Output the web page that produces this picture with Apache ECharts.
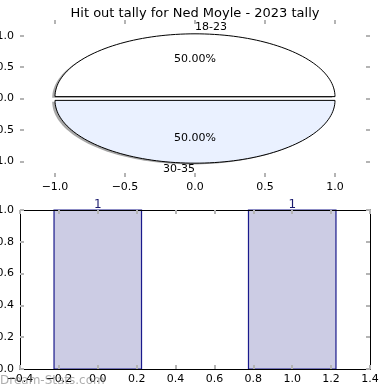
<!DOCTYPE html>
<html>
<head>
<meta charset="utf-8">
<script src="https://cdn.jsdelivr.net/npm/echarts@6/dist/echarts.min.js"></script>
<style>
html,body{margin:0;padding:0;background:#fff;}
#chart{width:390px;height:390px;}
</style>
</head>
<body>
<div id="chart"></div>
<script>
const chartTitle = 'Hit out tally for Ned Moyle - 2023 tally';
const sliceLabels = ['18-23', '30-35'];
const sliceValues = [1, 1];
const sliceColors = ['#ffffff', '#eaf1ff'];
const pieTicks = [-1.0, -0.5, 0.0, 0.5, 1.0];
const barPositions = [0, 1];
const barValues = [1, 1];
const barXTicks = [-0.4, -0.2, 0.0, 0.2, 0.4, 0.6, 0.8, 1.0, 1.2, 1.4];
const barYTicks = [0.0, 0.2, 0.4, 0.6, 0.8, 1.0];
const watermark = 'Dream-Stats.com';

const FONT = 'DejaVu Sans';
const EXPLODE = 0.03;
const BAR_W = 0.45;

const total = sliceValues.reduce((a, b) => a + b, 0);
const cum = [];
sliceValues.reduce((acc, v, i) => { cum[i] = acc; return acc + v; }, 0);

function slicePoints(i, dx, dy, api) {
  const t1 = 2 * Math.PI * cum[i] / total;
  const t2 = 2 * Math.PI * (cum[i] + sliceValues[i]) / total;
  const mid = (t1 + t2) / 2;
  const cx = EXPLODE * Math.cos(mid) + dx;
  const cy = EXPLODE * Math.sin(mid) + dy;
  const pts = [api.coord([cx, cy])];
  const N = 90;
  for (let k = 0; k <= N; k++) {
    const t = t1 + (t2 - t1) * k / N;
    pts.push(api.coord([cx + Math.cos(t), cy + Math.sin(t)]));
  }
  return { pts, mid, cx, cy };
}

const fmt = v => v.toFixed(1).replace('-', '\u2212');

const tickStyle = { show: true, inside: true, length: 4, lineStyle: { color: '#b4b4b4', width: 2 } };
const labelStyle = { fontFamily: FONT, fontSize: 11, color: '#000' };
const hiddenLine = { show: true, onZero: false, lineStyle: { color: 'rgba(0,0,0,0)', width: 1 } };
const frameLine = { show: true, onZero: false, lineStyle: { color: '#000', width: 1 } };

const chart = echarts.init(document.getElementById('chart'));
chart.setOption({
  animation: false,
  backgroundColor: '#fff',
  title: {
    text: chartTitle, left: 'center', top: 2,
    textStyle: { fontFamily: FONT, fontSize: 13, fontWeight: 'normal', color: '#000' }
  },
  graphic: [{
    type: 'text', left: 0, top: 375, z: 100,
    style: { text: watermark, fontFamily: FONT, fontSize: 12, fill: 'rgba(120,120,120,0.6)' }
  }],
  grid: [
    { left: 20, right: 20, top: 20, height: 157, outerBoundsMode: 'none' },
    { left: 20, right: 20, top: 210, height: 159, outerBoundsMode: 'none' }
  ],
  xAxis: [
    { type: 'value', gridIndex: 0, min: -1.25, max: 1.25, position: 'bottom', z: 10,
      axisLine: hiddenLine, splitLine: { show: false },
      axisTick: Object.assign({ customValues: pieTicks }, tickStyle),
      axisLabel: Object.assign({ customValues: pieTicks, formatter: fmt, margin: 5 }, labelStyle) },
    { type: 'value', gridIndex: 0, min: -1.25, max: 1.25, position: 'top', z: 10,
      axisLine: hiddenLine, splitLine: { show: false },
      axisTick: Object.assign({ customValues: pieTicks }, tickStyle),
      axisLabel: { show: false } },
    { type: 'value', gridIndex: 1, min: -0.4, max: 1.4, position: 'bottom', z: 10,
      axisLine: frameLine, splitLine: { show: false },
      axisTick: Object.assign({ customValues: barXTicks }, tickStyle),
      axisLabel: Object.assign({ customValues: barXTicks, formatter: fmt, margin: 5 }, labelStyle) },
    { type: 'value', gridIndex: 1, min: -0.4, max: 1.4, position: 'top', z: 10,
      axisLine: frameLine, splitLine: { show: false },
      axisTick: Object.assign({ customValues: barXTicks }, tickStyle),
      axisLabel: { show: false } }
  ],
  yAxis: [
    { type: 'value', gridIndex: 0, min: -1.25, max: 1.25, position: 'left', z: 10,
      axisLine: hiddenLine, splitLine: { show: false },
      axisTick: Object.assign({ customValues: pieTicks }, tickStyle),
      axisLabel: Object.assign({ customValues: pieTicks, formatter: fmt, margin: 6 }, labelStyle) },
    { type: 'value', gridIndex: 0, min: -1.25, max: 1.25, position: 'right', z: 10,
      axisLine: hiddenLine, splitLine: { show: false },
      axisTick: Object.assign({ customValues: pieTicks }, tickStyle),
      axisLabel: { show: false } },
    { type: 'value', gridIndex: 1, min: 0, max: 1, position: 'left', z: 10,
      axisLine: frameLine, splitLine: { show: false },
      axisTick: Object.assign({ customValues: barYTicks }, tickStyle),
      axisLabel: Object.assign({ customValues: barYTicks, formatter: fmt, margin: 6 }, labelStyle) },
    { type: 'value', gridIndex: 1, min: 0, max: 1, position: 'right', z: 10,
      axisLine: frameLine, splitLine: { show: false },
      axisTick: Object.assign({ customValues: barYTicks }, tickStyle),
      axisLabel: { show: false } }
  ],
  series: [
    { // shadow
      type: 'custom', xAxisIndex: 0, yAxisIndex: 0, z: 1,
      data: sliceValues,
      renderItem: (params, api) => {
        const s = slicePoints(params.dataIndex, -0.02, -0.02, api);
        return { type: 'polygon', shape: { points: s.pts },
          style: { fill: 'rgba(80,80,80,0.5)', stroke: null } };
      }
    },
    { // slices
      type: 'custom', xAxisIndex: 0, yAxisIndex: 0, z: 2,
      data: sliceValues,
      renderItem: (params, api) => {
        const i = params.dataIndex;
        const s = slicePoints(i, 0, 0, api);
        const lp = api.coord([s.cx + 1.1 * Math.cos(s.mid), s.cy + 1.1 * Math.sin(s.mid)]);
        const pp = api.coord([s.cx + 0.6 * Math.cos(s.mid), s.cy + 0.6 * Math.sin(s.mid)]);
        const pct = (100 * sliceValues[i] / total).toFixed(2) + '%';
        return { type: 'group', children: [
          { type: 'polygon', shape: { points: s.pts },
            style: { fill: sliceColors[i], stroke: '#000', lineWidth: 1 } },
          { type: 'text', x: lp[0], y: lp[1],
            style: { text: sliceLabels[i], fontFamily: FONT, fontSize: 11, fill: '#000',
              align: Math.cos(s.mid) >= 0 ? 'left' : 'right', verticalAlign: 'middle' } },
          { type: 'text', x: pp[0], y: pp[1],
            style: { text: pct, fontFamily: FONT, fontSize: 11, fill: '#000',
              align: 'center', verticalAlign: 'middle' } }
        ] };
      }
    },
    { // bars
      type: 'custom', xAxisIndex: 2, yAxisIndex: 2, z: 2,
      data: barPositions.map((p, i) => [p, barValues[i]]),
      renderItem: (params, api) => {
        const x = api.value(0), v = api.value(1);
        const tl = api.coord([x - BAR_W / 2, v]);
        const br = api.coord([x + BAR_W / 2, 0]);
        const top = api.coord([x, v]);
        return { type: 'group', children: [
          { type: 'rect', shape: { x: tl[0], y: tl[1], width: br[0] - tl[0], height: br[1] - tl[1] },
            style: { fill: '#ccccE4', stroke: '#1a1a8c', lineWidth: 1.2 } },
          { type: 'text', x: top[0], y: top[1] + 1,
            style: { text: String(v), fontFamily: FONT, fontSize: 12, fill: '#1a1a6e',
              align: 'center', verticalAlign: 'bottom' } }
        ] };
      }
    }
  ]
});
</script>
</body>
</html>
